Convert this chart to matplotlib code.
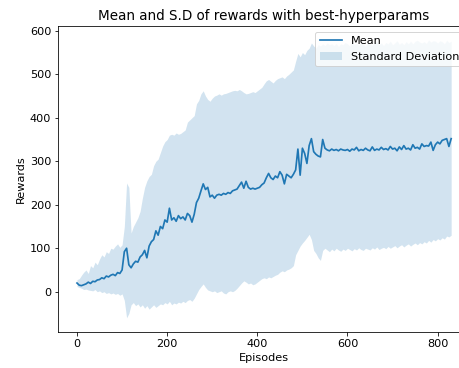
import numpy as np
import matplotlib
matplotlib.use("Agg")
import matplotlib.pyplot as plt

# episodes sampled every 5 steps (0 .. 830)
episodes = np.arange(0, 835, 5)

mean_reward = [
    20, 15, 14, 16, 18, 22, 19, 24, 23, 27,
    28, 32, 30, 36, 34, 38, 40, 37, 44, 42,
    50, 92, 100, 62, 55, 64, 70, 68, 80, 85,
    95, 78, 105, 115, 120, 140, 130, 150, 145, 165,
    160, 192, 165, 170, 162, 175, 168, 172, 165, 180,
    175, 160, 178, 205, 215, 232, 248, 235, 240, 218,
    222, 215, 222, 224, 222, 226, 224, 228, 226, 232,
    234, 236, 244, 252, 238, 254, 240, 236, 238, 236,
    238, 240, 246, 250, 262, 272, 262, 258, 266, 262,
    276, 268, 248, 270, 266, 262, 270, 280, 328, 268,
    330, 318, 295, 336, 352, 322, 316, 312, 310, 350,
    330, 326, 324, 328, 325, 327, 324, 328, 326, 325,
    327, 323, 328, 326, 332, 324, 327, 325, 330, 326,
    324, 333, 325, 328, 326, 332, 327, 329, 326, 334,
    328, 330, 324, 333, 327, 336, 328, 330, 326, 338,
    330, 332, 328, 340, 334, 336, 335, 344, 325, 338,
    344, 340, 348, 350, 352, 334, 352,
]

upper_reward = [
    28, 30, 38, 45, 50, 42, 60, 55, 68, 62,
    75, 85, 80, 92, 88, 100, 98, 105, 110, 102,
    108, 150, 250, 240, 135, 150, 160, 170, 185, 215,
    240, 255, 265, 270, 290, 300, 305, 320, 335, 345,
    350, 360, 362, 360, 365, 362, 364, 368, 372, 390,
    395, 400, 405, 432, 440, 455, 462, 450, 442, 438,
    445, 450, 452, 455, 452, 455, 456, 458, 460, 462,
    463, 462, 465, 462, 458, 455, 456, 458, 460, 458,
    462, 466, 470, 478, 485, 488, 484, 480, 486, 490,
    492, 494, 490, 496, 500, 505, 510, 530, 548, 540,
    550, 545, 555, 560, 572, 565, 560, 568, 565, 570,
    566, 572, 568, 570, 566, 571, 564, 570, 568, 573,
    570, 565, 574, 568, 572, 566, 573, 569, 564, 575,
    570, 567, 572, 576, 568, 572, 566, 573, 570, 576,
    568, 572, 577, 569, 573, 568, 575, 570, 576, 570,
    576, 578, 574, 572, 575, 571, 579, 574, 577, 576,
    572, 577, 575, 570, 578, 573, 576,
]

lower_reward = [
    12, 10, 8, 5, 6, 4, 3, 2, 5, 0,
    2, -2, 0, -4, -2, -5, -3, -6, -4, -8,
    -5, -20, -60, -50, -30, -25, -32, -28, -35, -30,
    -38, -32, -40, -35, -30, -36, -32, -28, -30, -25,
    -28, -22, -30, -26, -28, -24, -26, -22, -25, -20,
    -18, -22, -15, -5, 5, 12, 18, 10, 4, 2,
    0, 2, -2, 0, 2, -3, -5, 0, 2, 0,
    3, 8, 14, 20, 25, 22, 18, 20, 16, 18,
    22, 26, 30, 32, 30, 34, 32, 35, 38, 40,
    45, 48, 46, 50, 52, 55, 60, 85, 95, 105,
    112, 118, 125, 132, 120, 95, 88, 78, 72, 95,
    100, 96, 92, 98, 94, 100, 96, 93, 98, 95,
    100, 97, 94, 99, 96, 101, 97, 95, 100, 98,
    96, 101, 98, 103, 97, 100, 102, 99, 104, 100,
    103, 106, 101, 105, 108, 103, 107, 110, 105, 109,
    112, 108, 113, 110, 115, 112, 118, 114, 120, 117,
    122, 119, 124, 121, 128, 126, 130,
]

plt.rcParams['font.size'] = 11.3

fig = plt.figure(figsize=(459 / 72, 368 / 72), dpi=72)
# axes run past the right edge, like the cropped original
ax = fig.add_axes([0.127, 0.0986, 0.8967, 0.8307])

ax.plot(episodes, mean_reward, color='#1f77b4', linewidth=1.7, label='Mean')
ax.fill_between(episodes, lower_reward, upper_reward, color='#1f77b4', alpha=0.2,
                linewidth=0, label='Standard Deviation')

ax.set_title('Mean and S.D of rewards with best-hyperparams')
ax.set_xlabel('Episodes')
ax.set_ylabel('Rewards')
ax.legend(loc='upper right')

fig.savefig('out.png', dpi=72)
